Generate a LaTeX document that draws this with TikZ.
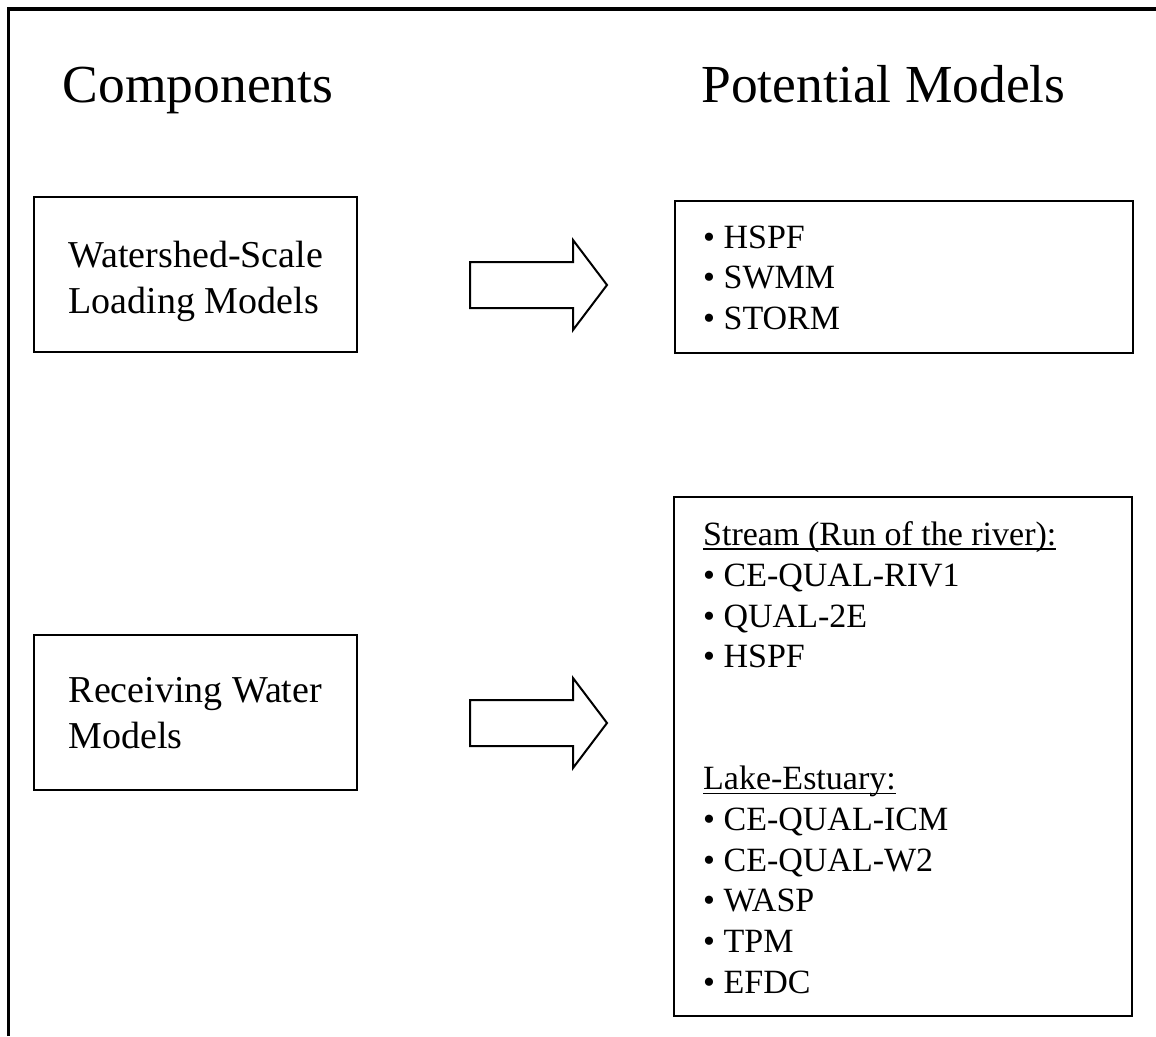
\documentclass[tikz,border=0pt]{standalone}
\usepackage{fontspec}
\setmainfont{Liberation Serif}
\usepackage{tikz}
\newcommand{\uln}[1]{\setbox0\hbox{#1}\rlap{\rule[-4.5pt]{\wd0}{1.7pt}}\box0}

\begin{document}
\begin{tikzpicture}[x=1pt, y=-1pt,
    panel/.style={draw=black, line width=1.7pt, inner sep=0pt},
    heading/.style={font=\fontsize{53.5}{64}\selectfont, anchor=base, inner sep=0pt},
    boxtext/.style={font=\fontsize{38}{46}\selectfont, align=left, anchor=west, inner sep=0pt},
    listtext/.style={font=\fontsize{34}{40.7}\selectfont, align=left, anchor=north west, inner sep=0pt},
    fatarrow/.style={draw=black, line width=2pt, line join=miter}]
    \useasboundingbox (0,0) rectangle (1156,1036);
    % outer frame (cut off at right and bottom)
    \draw[line width=3.3pt] (8.5,1036) -- (8.5,9) -- (1156,9);
    % headings
    \node[heading] (comphead) at (198,102) {Components};
    \node[heading] (modhead) at (883.5,102) {Potential Models};
    % component boxes
    \node[panel, minimum width=323, minimum height=155] (wslbox) at (195.5,274.5) {};
    \node[boxtext] (wsltext) at (68.5,281.2) {Watershed-Scale\\Loading Models};
    \node[panel, minimum width=323, minimum height=155] (rwmbox) at (195.5,712.5) {};
    \node[boxtext] (rwmtext) at (68.5,713.2) {Receiving Water\\Models};
    % model boxes
    \node[panel, minimum width=458, minimum height=152] (wsmbox) at (904,277) {};
    \node[listtext] (wsmlist) at (703,225.5) {• HSPF\\
        • SWMM\\
        • STORM};
    \node[panel, minimum width=458, minimum height=519] (rwbox) at (903,756.5) {};
    \node[listtext] (rwlist) at (703,521.5) {\uln{Stream (Run of the river):}\\
        • CE-QUAL-RIV1\\
        • QUAL-2E\\
        • HSPF\\[81.4pt]
        \uln{Lake-Estuary:}\\
        • CE-QUAL-ICM\\
        • CE-QUAL-W2\\
        • WASP\\
        • TPM\\
        • EFDC};
    % block arrows
    \draw[fatarrow] (470,262) -- (573,262) -- (573,240) -- (607,285)
        -- (573,330) -- (573,308) -- (470,308) -- cycle;
    \begin{scope}[shift={(0,438)}]
        \draw[fatarrow] (470,262) -- (573,262) -- (573,240) -- (607,285)
            -- (573,330) -- (573,308) -- (470,308) -- cycle;
    \end{scope}
\end{tikzpicture}
\end{document}
